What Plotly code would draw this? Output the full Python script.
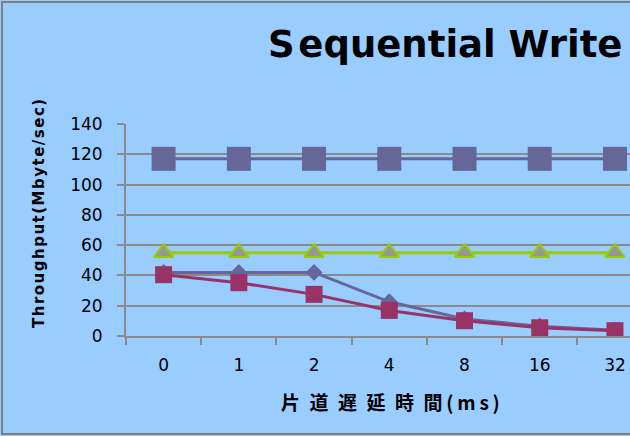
import plotly.graph_objects as go

# Categories: one-way delay (ms)
delays = ["0", "1", "2", "4", "8", "16", "32"]

# Throughput series (Mbyte/sec)
series_diamond = [42, 42, 42, 22.6, 11.2, 6.5, 3.8]
series_square_small = [40.5, 35.2, 27.5, 16.9, 10.1, 5.4, 3.5]
series_triangle = [55, 55, 55, 55, 55, 55, 55]
series_square_big = [117, 117, 117, 117, 117, 117, 117]

y_ticks = [0, 20, 40, 60, 80, 100, 120, 140]

W, H = 630, 436
ML, MR, MT, MB = 126, 0, 124, 100
PW, PH = W - ML - MR, H - MT - MB


def px_x(px):
    return (px - ML) / PW


def px_y(py):
    return (H - MB - py) / PH


def spaced(s, sep="\u200a"):
    return sep.join(s)


BG = "#99CCFF"
GRID = "#8A8A8A"

fig = go.Figure()

fig.add_trace(go.Scatter(
    x=delays, y=series_diamond, mode="lines+markers",
    line=dict(color="#666699", width=3),
    marker=dict(symbol="diamond", size=13, color="#666699"),
))
fig.add_trace(go.Scatter(
    x=delays, y=series_square_small, mode="lines+markers",
    line=dict(color="#993366", width=3),
    marker=dict(symbol="square", size=17, color="#993366"),
))
fig.add_trace(go.Scatter(
    x=delays, y=series_triangle, mode="lines+markers",
    line=dict(color="#99CC00", width=3),
    marker=dict(symbol="triangle-up", size=17, color="#969696",
                line=dict(color="#99CC00", width=2)),
))
fig.add_trace(go.Scatter(
    x=delays, y=series_square_big, mode="lines+markers",
    line=dict(color="#666699", width=3),
    marker=dict(symbol="square", size=24, color="#666699"),
))

fig.update_layout(
    width=W, height=H,
    margin=dict(l=ML, r=MR, t=MT, b=MB, pad=0),
    paper_bgcolor=BG, plot_bgcolor=BG,
    showlegend=False,
    xaxis=dict(
        type="category", categoryorder="array", categoryarray=delays,
        range=[-0.5, 6.2], tickson="boundaries",
        showgrid=False, zeroline=False,
        showline=True, linecolor=GRID, linewidth=2,
        ticks="outside", ticklen=7, tickwidth=2, tickcolor=GRID,
        ticklabelstandoff=13,
        tickfont=dict(family="DejaVu Sans", size=17, color="#000000"),
    ),
    yaxis=dict(
        range=[0, 140], tickvals=y_ticks,
        showgrid=True, gridcolor=GRID, gridwidth=2, zeroline=False,
        showline=True, linecolor=GRID, linewidth=2,
        ticks="outside", ticklen=7, tickwidth=2, tickcolor=GRID,
        ticklabelstandoff=11,
        tickfont=dict(family="DejaVu Sans", size=17, color="#000000"),
    ),
)

# Chart frame (extends past the right edge)
fig.add_shape(type="rect", xref="paper", yref="paper",
              x0=px_x(2), x1=px_x(W + 20), y0=px_y(434), y1=px_y(2),
              line=dict(color="#808080", width=2), fillcolor="rgba(0,0,0,0)",
              layer="below")

# Chart title
fig.add_annotation(
    text="S\u200aequential Write", xref="paper", yref="paper",
    x=px_x(445), y=px_y(44), xanchor="center", yanchor="middle",
    showarrow=False,
    font=dict(family="DejaVu Sans", size=37, color="#000000", weight="bold"),
)

# Y-axis title
fig.add_annotation(
    text=spaced("Throughput(Mbyte/sec)"), xref="paper", yref="paper",
    x=px_x(39), y=px_y(214), xanchor="center", yanchor="middle",
    textangle=-90, showarrow=False,
    font=dict(family="DejaVu Sans", size=15, color="#000000", weight="bold"),
)

# X-axis title
fig.add_annotation(
    text="片\u2002道\u2002遅\u2002延\u2002時\u2002間\u2009(\u2009m\u2009s\u2009)",
    xref="paper", yref="paper",
    x=px_x(390), y=px_y(401), xanchor="center", yanchor="middle",
    showarrow=False,
    font=dict(family="Noto Sans CJK JP", size=19, color="#000000", weight="bold"),
)

fig.write_html("out.html")
